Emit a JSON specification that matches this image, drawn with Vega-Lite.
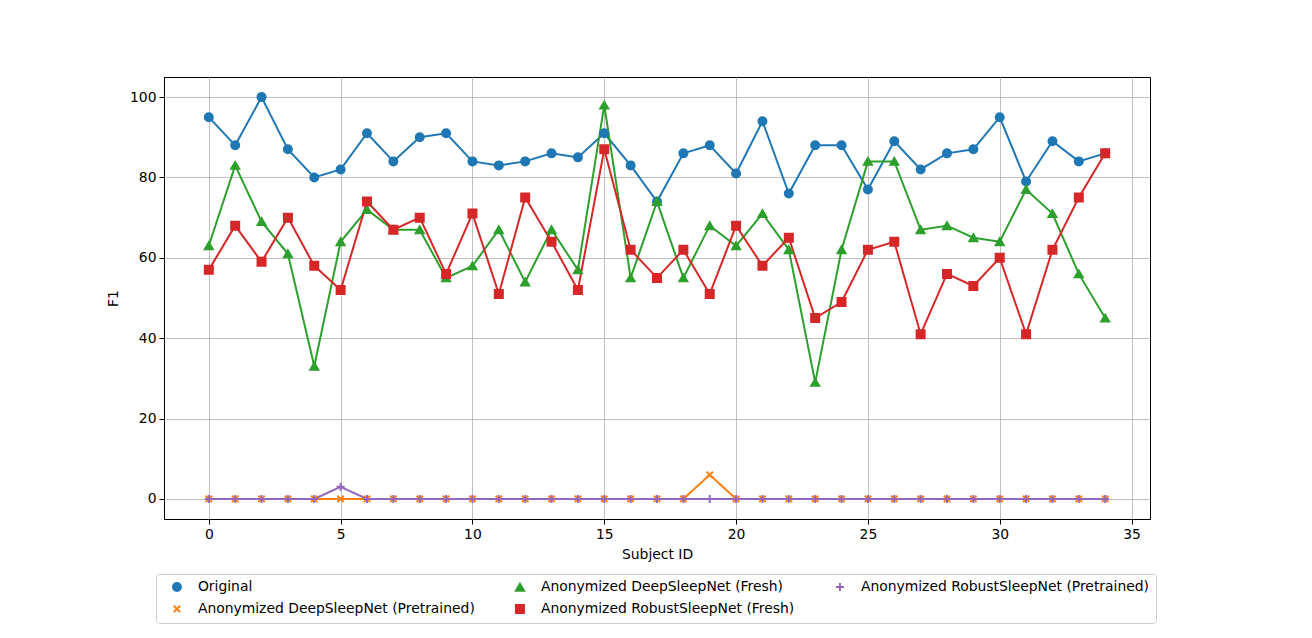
{
  "$schema": "https://vega.github.io/schema/vega-lite/v6.json",
  "width": 986,
  "height": 442,
  "autosize": {"type": "none"},
  "padding": {"left": 164, "top": 77, "right": 162, "bottom": 119},
  "background": "white",
  "config": {
    "font": "DejaVu Sans",
    "view": {"stroke": "black", "strokeWidth": 1},
    "axis": {
      "labelFont": "DejaVu Sans", "labelFontSize": 13.9, "labelColor": "black",
      "titleFont": "DejaVu Sans", "titleFontSize": 13.9, "titleFontWeight": "normal", "titleColor": "black",
      "domainColor": "black", "tickColor": "black", "tickSize": 5, "labelPadding": 3,
      "gridColor": "#b0b0b0", "gridWidth": 0.8, "gridOpacity": 1
    }
  },
  "data": {"values": [
    {"s":"Original","x":0,"f1":95},{"s":"Original","x":1,"f1":88},{"s":"Original","x":2,"f1":100},{"s":"Original","x":3,"f1":87},{"s":"Original","x":4,"f1":80},{"s":"Original","x":5,"f1":82},{"s":"Original","x":6,"f1":91},{"s":"Original","x":7,"f1":84},{"s":"Original","x":8,"f1":90},{"s":"Original","x":9,"f1":91},{"s":"Original","x":10,"f1":84},{"s":"Original","x":11,"f1":83},{"s":"Original","x":12,"f1":84},{"s":"Original","x":13,"f1":86},{"s":"Original","x":14,"f1":85},{"s":"Original","x":15,"f1":91},{"s":"Original","x":16,"f1":83},{"s":"Original","x":17,"f1":74},{"s":"Original","x":18,"f1":86},{"s":"Original","x":19,"f1":88},{"s":"Original","x":20,"f1":81},{"s":"Original","x":21,"f1":94},{"s":"Original","x":22,"f1":76},{"s":"Original","x":23,"f1":88},{"s":"Original","x":24,"f1":88},{"s":"Original","x":25,"f1":77},{"s":"Original","x":26,"f1":89},{"s":"Original","x":27,"f1":82},{"s":"Original","x":28,"f1":86},{"s":"Original","x":29,"f1":87},{"s":"Original","x":30,"f1":95},{"s":"Original","x":31,"f1":79},{"s":"Original","x":32,"f1":89},{"s":"Original","x":33,"f1":84},{"s":"Original","x":34,"f1":86},
    {"s":"Anonymized DeepSleepNet (Pretrained)","x":0,"f1":0},{"s":"Anonymized DeepSleepNet (Pretrained)","x":1,"f1":0},{"s":"Anonymized DeepSleepNet (Pretrained)","x":2,"f1":0},{"s":"Anonymized DeepSleepNet (Pretrained)","x":3,"f1":0},{"s":"Anonymized DeepSleepNet (Pretrained)","x":4,"f1":0},{"s":"Anonymized DeepSleepNet (Pretrained)","x":5,"f1":0},{"s":"Anonymized DeepSleepNet (Pretrained)","x":6,"f1":0},{"s":"Anonymized DeepSleepNet (Pretrained)","x":7,"f1":0},{"s":"Anonymized DeepSleepNet (Pretrained)","x":8,"f1":0},{"s":"Anonymized DeepSleepNet (Pretrained)","x":9,"f1":0},{"s":"Anonymized DeepSleepNet (Pretrained)","x":10,"f1":0},{"s":"Anonymized DeepSleepNet (Pretrained)","x":11,"f1":0},{"s":"Anonymized DeepSleepNet (Pretrained)","x":12,"f1":0},{"s":"Anonymized DeepSleepNet (Pretrained)","x":13,"f1":0},{"s":"Anonymized DeepSleepNet (Pretrained)","x":14,"f1":0},{"s":"Anonymized DeepSleepNet (Pretrained)","x":15,"f1":0},{"s":"Anonymized DeepSleepNet (Pretrained)","x":16,"f1":0},{"s":"Anonymized DeepSleepNet (Pretrained)","x":17,"f1":0},{"s":"Anonymized DeepSleepNet (Pretrained)","x":18,"f1":0},{"s":"Anonymized DeepSleepNet (Pretrained)","x":19,"f1":6},{"s":"Anonymized DeepSleepNet (Pretrained)","x":20,"f1":0},{"s":"Anonymized DeepSleepNet (Pretrained)","x":21,"f1":0},{"s":"Anonymized DeepSleepNet (Pretrained)","x":22,"f1":0},{"s":"Anonymized DeepSleepNet (Pretrained)","x":23,"f1":0},{"s":"Anonymized DeepSleepNet (Pretrained)","x":24,"f1":0},{"s":"Anonymized DeepSleepNet (Pretrained)","x":25,"f1":0},{"s":"Anonymized DeepSleepNet (Pretrained)","x":26,"f1":0},{"s":"Anonymized DeepSleepNet (Pretrained)","x":27,"f1":0},{"s":"Anonymized DeepSleepNet (Pretrained)","x":28,"f1":0},{"s":"Anonymized DeepSleepNet (Pretrained)","x":29,"f1":0},{"s":"Anonymized DeepSleepNet (Pretrained)","x":30,"f1":0},{"s":"Anonymized DeepSleepNet (Pretrained)","x":31,"f1":0},{"s":"Anonymized DeepSleepNet (Pretrained)","x":32,"f1":0},{"s":"Anonymized DeepSleepNet (Pretrained)","x":33,"f1":0},{"s":"Anonymized DeepSleepNet (Pretrained)","x":34,"f1":0},
    {"s":"Anonymized DeepSleepNet (Fresh)","x":0,"f1":63},{"s":"Anonymized DeepSleepNet (Fresh)","x":1,"f1":83},{"s":"Anonymized DeepSleepNet (Fresh)","x":2,"f1":69},{"s":"Anonymized DeepSleepNet (Fresh)","x":3,"f1":61},{"s":"Anonymized DeepSleepNet (Fresh)","x":4,"f1":33},{"s":"Anonymized DeepSleepNet (Fresh)","x":5,"f1":64},{"s":"Anonymized DeepSleepNet (Fresh)","x":6,"f1":72},{"s":"Anonymized DeepSleepNet (Fresh)","x":7,"f1":67},{"s":"Anonymized DeepSleepNet (Fresh)","x":8,"f1":67},{"s":"Anonymized DeepSleepNet (Fresh)","x":9,"f1":55},{"s":"Anonymized DeepSleepNet (Fresh)","x":10,"f1":58},{"s":"Anonymized DeepSleepNet (Fresh)","x":11,"f1":67},{"s":"Anonymized DeepSleepNet (Fresh)","x":12,"f1":54},{"s":"Anonymized DeepSleepNet (Fresh)","x":13,"f1":67},{"s":"Anonymized DeepSleepNet (Fresh)","x":14,"f1":57},{"s":"Anonymized DeepSleepNet (Fresh)","x":15,"f1":98},{"s":"Anonymized DeepSleepNet (Fresh)","x":16,"f1":55},{"s":"Anonymized DeepSleepNet (Fresh)","x":17,"f1":74},{"s":"Anonymized DeepSleepNet (Fresh)","x":18,"f1":55},{"s":"Anonymized DeepSleepNet (Fresh)","x":19,"f1":68},{"s":"Anonymized DeepSleepNet (Fresh)","x":20,"f1":63},{"s":"Anonymized DeepSleepNet (Fresh)","x":21,"f1":71},{"s":"Anonymized DeepSleepNet (Fresh)","x":22,"f1":62},{"s":"Anonymized DeepSleepNet (Fresh)","x":23,"f1":29},{"s":"Anonymized DeepSleepNet (Fresh)","x":24,"f1":62},{"s":"Anonymized DeepSleepNet (Fresh)","x":25,"f1":84},{"s":"Anonymized DeepSleepNet (Fresh)","x":26,"f1":84},{"s":"Anonymized DeepSleepNet (Fresh)","x":27,"f1":67},{"s":"Anonymized DeepSleepNet (Fresh)","x":28,"f1":68},{"s":"Anonymized DeepSleepNet (Fresh)","x":29,"f1":65},{"s":"Anonymized DeepSleepNet (Fresh)","x":30,"f1":64},{"s":"Anonymized DeepSleepNet (Fresh)","x":31,"f1":77},{"s":"Anonymized DeepSleepNet (Fresh)","x":32,"f1":71},{"s":"Anonymized DeepSleepNet (Fresh)","x":33,"f1":56},{"s":"Anonymized DeepSleepNet (Fresh)","x":34,"f1":45},
    {"s":"Anonymized RobustSleepNet (Fresh)","x":0,"f1":57},{"s":"Anonymized RobustSleepNet (Fresh)","x":1,"f1":68},{"s":"Anonymized RobustSleepNet (Fresh)","x":2,"f1":59},{"s":"Anonymized RobustSleepNet (Fresh)","x":3,"f1":70},{"s":"Anonymized RobustSleepNet (Fresh)","x":4,"f1":58},{"s":"Anonymized RobustSleepNet (Fresh)","x":5,"f1":52},{"s":"Anonymized RobustSleepNet (Fresh)","x":6,"f1":74},{"s":"Anonymized RobustSleepNet (Fresh)","x":7,"f1":67},{"s":"Anonymized RobustSleepNet (Fresh)","x":8,"f1":70},{"s":"Anonymized RobustSleepNet (Fresh)","x":9,"f1":56},{"s":"Anonymized RobustSleepNet (Fresh)","x":10,"f1":71},{"s":"Anonymized RobustSleepNet (Fresh)","x":11,"f1":51},{"s":"Anonymized RobustSleepNet (Fresh)","x":12,"f1":75},{"s":"Anonymized RobustSleepNet (Fresh)","x":13,"f1":64},{"s":"Anonymized RobustSleepNet (Fresh)","x":14,"f1":52},{"s":"Anonymized RobustSleepNet (Fresh)","x":15,"f1":87},{"s":"Anonymized RobustSleepNet (Fresh)","x":16,"f1":62},{"s":"Anonymized RobustSleepNet (Fresh)","x":17,"f1":55},{"s":"Anonymized RobustSleepNet (Fresh)","x":18,"f1":62},{"s":"Anonymized RobustSleepNet (Fresh)","x":19,"f1":51},{"s":"Anonymized RobustSleepNet (Fresh)","x":20,"f1":68},{"s":"Anonymized RobustSleepNet (Fresh)","x":21,"f1":58},{"s":"Anonymized RobustSleepNet (Fresh)","x":22,"f1":65},{"s":"Anonymized RobustSleepNet (Fresh)","x":23,"f1":45},{"s":"Anonymized RobustSleepNet (Fresh)","x":24,"f1":49},{"s":"Anonymized RobustSleepNet (Fresh)","x":25,"f1":62},{"s":"Anonymized RobustSleepNet (Fresh)","x":26,"f1":64},{"s":"Anonymized RobustSleepNet (Fresh)","x":27,"f1":41},{"s":"Anonymized RobustSleepNet (Fresh)","x":28,"f1":56},{"s":"Anonymized RobustSleepNet (Fresh)","x":29,"f1":53},{"s":"Anonymized RobustSleepNet (Fresh)","x":30,"f1":60},{"s":"Anonymized RobustSleepNet (Fresh)","x":31,"f1":41},{"s":"Anonymized RobustSleepNet (Fresh)","x":32,"f1":62},{"s":"Anonymized RobustSleepNet (Fresh)","x":33,"f1":75},{"s":"Anonymized RobustSleepNet (Fresh)","x":34,"f1":86},
    {"s":"Anonymized RobustSleepNet (Pretrained)","x":0,"f1":0},{"s":"Anonymized RobustSleepNet (Pretrained)","x":1,"f1":0},{"s":"Anonymized RobustSleepNet (Pretrained)","x":2,"f1":0},{"s":"Anonymized RobustSleepNet (Pretrained)","x":3,"f1":0},{"s":"Anonymized RobustSleepNet (Pretrained)","x":4,"f1":0},{"s":"Anonymized RobustSleepNet (Pretrained)","x":5,"f1":3},{"s":"Anonymized RobustSleepNet (Pretrained)","x":6,"f1":0},{"s":"Anonymized RobustSleepNet (Pretrained)","x":7,"f1":0},{"s":"Anonymized RobustSleepNet (Pretrained)","x":8,"f1":0},{"s":"Anonymized RobustSleepNet (Pretrained)","x":9,"f1":0},{"s":"Anonymized RobustSleepNet (Pretrained)","x":10,"f1":0},{"s":"Anonymized RobustSleepNet (Pretrained)","x":11,"f1":0},{"s":"Anonymized RobustSleepNet (Pretrained)","x":12,"f1":0},{"s":"Anonymized RobustSleepNet (Pretrained)","x":13,"f1":0},{"s":"Anonymized RobustSleepNet (Pretrained)","x":14,"f1":0},{"s":"Anonymized RobustSleepNet (Pretrained)","x":15,"f1":0},{"s":"Anonymized RobustSleepNet (Pretrained)","x":16,"f1":0},{"s":"Anonymized RobustSleepNet (Pretrained)","x":17,"f1":0},{"s":"Anonymized RobustSleepNet (Pretrained)","x":18,"f1":0},{"s":"Anonymized RobustSleepNet (Pretrained)","x":19,"f1":0},{"s":"Anonymized RobustSleepNet (Pretrained)","x":20,"f1":0},{"s":"Anonymized RobustSleepNet (Pretrained)","x":21,"f1":0},{"s":"Anonymized RobustSleepNet (Pretrained)","x":22,"f1":0},{"s":"Anonymized RobustSleepNet (Pretrained)","x":23,"f1":0},{"s":"Anonymized RobustSleepNet (Pretrained)","x":24,"f1":0},{"s":"Anonymized RobustSleepNet (Pretrained)","x":25,"f1":0},{"s":"Anonymized RobustSleepNet (Pretrained)","x":26,"f1":0},{"s":"Anonymized RobustSleepNet (Pretrained)","x":27,"f1":0},{"s":"Anonymized RobustSleepNet (Pretrained)","x":28,"f1":0},{"s":"Anonymized RobustSleepNet (Pretrained)","x":29,"f1":0},{"s":"Anonymized RobustSleepNet (Pretrained)","x":30,"f1":0},{"s":"Anonymized RobustSleepNet (Pretrained)","x":31,"f1":0},{"s":"Anonymized RobustSleepNet (Pretrained)","x":32,"f1":0},{"s":"Anonymized RobustSleepNet (Pretrained)","x":33,"f1":0},{"s":"Anonymized RobustSleepNet (Pretrained)","x":34,"f1":0}
  ]},
  "encoding": {
    "x": {"field": "x", "type": "quantitative", "title": "Subject ID",
      "scale": {"domain": [-1.7, 35.7], "nice": false, "zero": false},
      "axis": {"values": [0, 5, 10, 15, 20, 25, 30, 35], "grid": true, "titlePadding": 7}},
    "y": {"field": "f1", "type": "quantitative", "title": "F1",
      "scale": {"domain": [-5, 105], "nice": false, "zero": false},
      "axis": {"values": [0, 20, 40, 60, 80, 100], "grid": true, "titlePadding": 9}}
  },
  "layer": [
    {
      "mark": {"type": "line", "strokeWidth": 2},
      "encoding": {
        "color": {"field": "s", "type": "nominal",
          "scale": {
            "domain": ["Original", "Anonymized DeepSleepNet (Fresh)", "Anonymized RobustSleepNet (Pretrained)", "Anonymized DeepSleepNet (Pretrained)", "Anonymized RobustSleepNet (Fresh)"],
            "range": ["#1f77b4", "#2ca02c", "#9467bd", "#ff7f0e", "#d62728"]},
          "legend": {
            "title": null, "orient": "none", "legendX": -8, "legendY": 497,
            "columns": 3, "direction": "horizontal",
            "labelFont": "DejaVu Sans", "labelFontSize": 13.9, "labelColor": "black",
            "labelLimit": 400, "columnPadding": 30, "rowPadding": 5,
            "symbolSize": 64, "symbolStrokeWidth": 2, "symbolOffset": 8, "labelOffset": 14,
            "padding": 6, "strokeColor": "#cccccc", "fillColor": "white", "cornerRadius": 3
          }},
        "detail": {"field": "s"}
      }
    },
    {
      "mark": {"type": "point", "filled": true, "size": 64, "strokeWidth": 2, "opacity": 1},
      "encoding": {
        "color": {"field": "s", "type": "nominal"},
        "stroke": {"field": "s", "type": "nominal",
          "scale": {
            "domain": ["Original", "Anonymized DeepSleepNet (Fresh)", "Anonymized RobustSleepNet (Pretrained)", "Anonymized DeepSleepNet (Pretrained)", "Anonymized RobustSleepNet (Fresh)"],
            "range": ["#1f77b4", "#2ca02c", "#9467bd", "#ff7f0e", "#d62728"]}},
        "shape": {"field": "s", "type": "nominal",
          "scale": {
            "domain": ["Original", "Anonymized DeepSleepNet (Fresh)", "Anonymized RobustSleepNet (Pretrained)", "Anonymized DeepSleepNet (Pretrained)", "Anonymized RobustSleepNet (Fresh)"],
            "range": ["circle", "triangle-up", "M-1,0L1,0M0,-1L0,1", "M-0.8,-0.8L0.8,0.8M-0.8,0.8L0.8,-0.8", "square"]}}
      }
    }
  ]
}
